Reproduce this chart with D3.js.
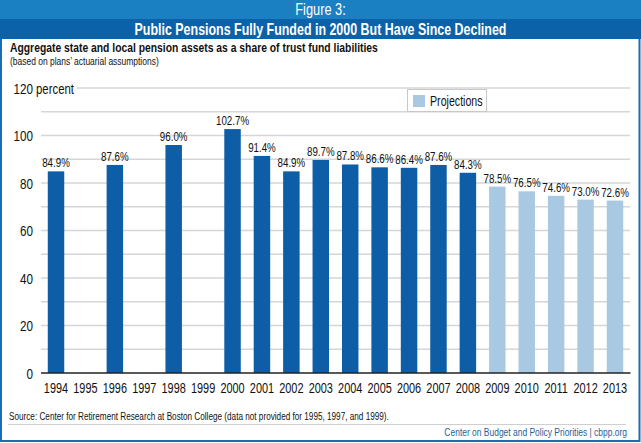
<!DOCTYPE html>
<html><head><meta charset="utf-8">
<script src="https://cdn.jsdelivr.net/npm/d3@7"></script>
<style>
body{margin:0;background:#fff;}
svg{display:block;}
text{font-family:"Liberation Sans",Arial,sans-serif;}
</style></head><body>
<svg id="c" width="641" height="443"></svg>
<script>
const years = ["1994","1995","1996","1997","1998","1999","2000","2001","2002","2003","2004","2005","2006","2007","2008","2009","2010","2011","2012","2013"];
const values = [84.9,null,87.6,null,96.0,null,102.7,91.4,84.9,89.7,87.8,86.6,86.4,87.6,84.3,78.5,76.5,74.6,73.0,72.6];
const valueLabels = ["84.9%","","87.6%","","96.0%","","102.7%","91.4%","84.9%","89.7%","87.8%","86.6%","86.4%","87.6%","84.3%","78.5%","76.5%","74.6%","73.0%","72.6%"];
const projectionFrom = "2009";
const yTicks = [0,20,40,60,80,100,120];
const gridValues = [10,20,30,40,50,60,70,80,90,100,110,120];

const darkBlue = "#0d5ea6", lightBlue = "#a9c9e3";
const svg = d3.select("#c");

// horizontally condense text with a scale transform about its anchor point
function condense(sel, ratio, fixed){
  sel.each(function(){
    const t = d3.select(this);
    const w = this.getComputedTextLength();
    if (w<=0) return;
    const r = fixed ? fixed/w : ratio;
    const x0 = +t.attr("x") || 0, y0 = +t.attr("y") || 0;
    t.attr("x",0).attr("y",0).attr("transform",`translate(${x0},${y0}) scale(${r},1)`);
  });
  return sel;
}

// header bands
svg.append("rect").attr("x",0).attr("y",0).attr("width",641).attr("height",19).attr("fill","#1b80c2");
svg.append("rect").attr("x",0).attr("y",19).attr("width",641).attr("height",20).attr("fill","#0c62a9");
condense(svg.append("text").attr("x",320.5).attr("y",15).attr("text-anchor","middle").attr("fill","#fff")
  .attr("font-size",16).text("Figure 3:"), 0.8);
condense(svg.append("text").attr("x",320.5).attr("y",35).attr("text-anchor","middle").attr("fill","#fff")
  .attr("font-size",16).attr("font-weight","bold")
  .text("Public Pensions Fully Funded in 2000 But Have Since Declined"), 1, 372);
// frame
svg.append("path").attr("d","M1,39 V441 H639.5 V39").attr("fill","none").attr("stroke","#1a6db3").attr("stroke-width",2);

condense(svg.append("text").attr("x",10).attr("y",52).attr("font-size",12.5).attr("font-weight","bold").attr("fill","#111")
  .text("Aggregate state and local pension assets as a share of trust fund liabilities"), 1, 368);
condense(svg.append("text").attr("x",10).attr("y",65).attr("font-size",10).attr("fill","#111")
  .text("(based on plans\u2019 actuarial assumptions)"), 1, 149);

const x = d3.scaleBand().domain(years).range([41.3,629.7]).paddingInner(0.44).paddingOuter(0.22);
const y = d3.scaleLinear().domain([0,120]).range([373,88]);

// gridlines
svg.append("g").selectAll("line").data(gridValues).join("line")
  .attr("x1",d=>d===120?77:41).attr("x2",630)
  .attr("y1",d=>y(d)).attr("y2",d=>y(d))
  .attr("stroke","#d6d6d6").attr("stroke-width",1.5);

// y labels
condense(svg.append("g").selectAll("text").data(yTicks).join("text")
  .attr("x",33).attr("y",d=>y(d)+5.5).attr("text-anchor","end").attr("font-size",15).attr("fill","#111")
  .text(d=>d), 0.78);
condense(svg.append("text").attr("x",36).attr("y",y(120)+5.5).attr("font-size",15).attr("fill","#111").text("percent"), 0.76);

// bars
const data = years.map((yr,i)=>({yr,v:values[i],lab:valueLabels[i]})).filter(d=>d.v!==null);
svg.append("g").selectAll("rect").data(data).join("rect")
  .attr("x",d=>x(d.yr)).attr("width",x.bandwidth())
  .attr("y",d=>y(d.v)).attr("height",d=>y(0)-y(d.v))
  .attr("fill",d=>d.yr>=projectionFrom?lightBlue:darkBlue);
condense(svg.append("g").selectAll("text").data(data).join("text")
  .attr("x",d=>x(d.yr)+x.bandwidth()/2).attr("y",d=>y(d.v)-4)
  .attr("text-anchor","middle").attr("font-size",13).attr("fill","#111")
  .text(d=>d.lab), 0.75);

// baseline
svg.append("line").attr("x1",41).attr("x2",630.5).attr("y1",y(0)).attr("y2",y(0)).attr("stroke","#222").attr("stroke-width",1.5);

// x axis labels
const xAxis = d3.axisBottom(x).tickSize(0).tickPadding(10);
const gx = svg.append("g").attr("transform",`translate(0,${y(0)})`).call(xAxis);
gx.select(".domain").remove();
gx.selectAll("text").attr("font-size",14).attr("fill","#111").attr("font-family",null)
  .attr("text-anchor","middle").attr("transform","scale(0.78,1)");

// legend
svg.append("rect").attr("x",407.5).attr("y",89.5).attr("width",79).attr("height",22).attr("fill","#fff").attr("stroke","#c8c8c8");
svg.append("rect").attr("x",413).attr("y",95).attr("width",12).attr("height",12).attr("fill",lightBlue);
condense(svg.append("text").attr("x",430).attr("y",106).attr("font-size",14).attr("fill","#111").text("Projections"), 0.76);

// source & footer
condense(svg.append("text").attr("x",9).attr("y",420).attr("font-size",10.5).attr("fill","#111")
  .text("Source: Center for Retirement Research at Boston College (data not provided for 1995, 1997, and 1999)."), 1, 380);
svg.append("line").attr("x1",8).attr("x2",626).attr("y1",424.5).attr("y2",424.5).attr("stroke","#cfcfcf").attr("stroke-width",1);
condense(svg.append("text").attr("x",627).attr("y",436).attr("text-anchor","end").attr("font-size",11).attr("fill","#1a5fa0")
  .text("Center on Budget and Policy Priorities | cbpp.org"), 0.77);
</script></body></html>
